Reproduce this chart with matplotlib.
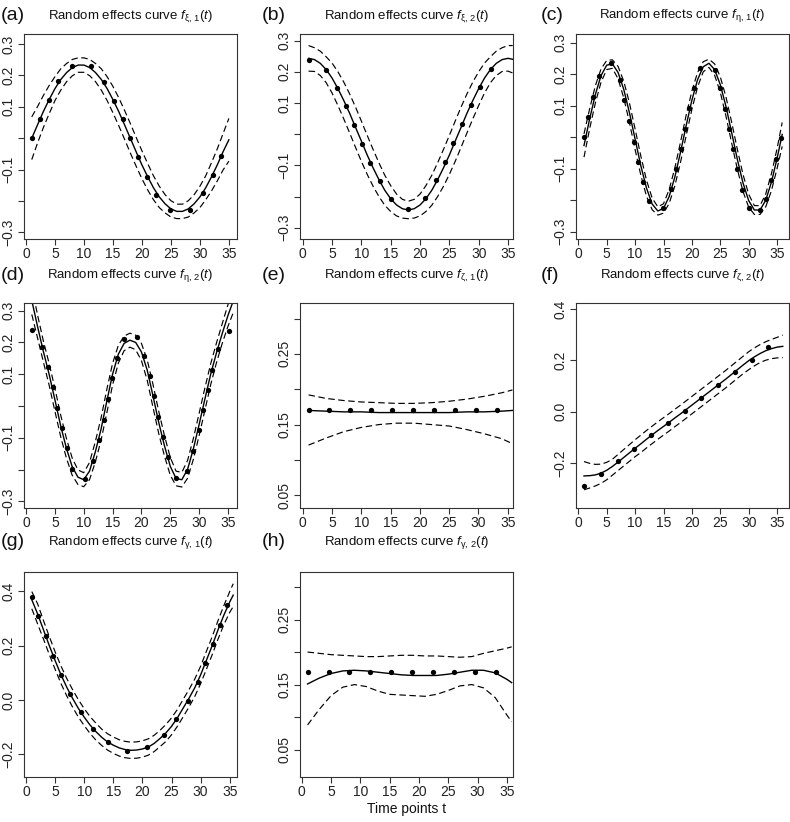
import matplotlib
matplotlib.use("Agg")
import matplotlib.pyplot as plt

plt.rcParams['font.family'] = ['Liberation Sans', 'DejaVu Sans']
plt.rcParams['mathtext.fontset'] = 'custom'
plt.rcParams['mathtext.rm'] = 'Liberation Sans'
plt.rcParams['mathtext.it'] = 'Liberation Sans:italic'

# ---------------- data ----------------
# (a)
t_a = list(range(1, 36))
S_a = [0.000, 0.043, 0.085, 0.123, 0.158, 0.187, 0.209, 0.225, 0.233, 0.233, 0.225, 0.209, 0.187, 0.158, 0.123, 0.085, 0.043, 0.000,
       -0.043, -0.085, -0.123, -0.158, -0.187, -0.209, -0.225, -0.233, -0.233, -0.225, -0.209, -0.187, -0.158, -0.123, -0.085, -0.043, -0.005]
U_a = [0.068, 0.101, 0.136, 0.168, 0.196, 0.221, 0.238, 0.251, 0.256, 0.256, 0.251, 0.238, 0.221, 0.196, 0.165, 0.129, 0.089, 0.047,
       0.003, -0.040, -0.081, -0.120, -0.153, -0.180, -0.199, -0.210, -0.210, -0.199, -0.180, -0.153, -0.120, -0.078, -0.034, 0.015, 0.063]
L_a = [-0.068, -0.015, 0.034, 0.078, 0.120, 0.153, 0.180, 0.199, 0.210, 0.210, 0.199, 0.180, 0.153, 0.120, 0.081, 0.040, -0.003, -0.047,
       -0.089, -0.129, -0.165, -0.196, -0.221, -0.238, -0.251, -0.256, -0.256, -0.251, -0.238, -0.221, -0.196, -0.168, -0.136, -0.101, -0.073]
dt_a = [1.0, 2.5, 4.0, 5.6, 7.9, 11.2, 13.5, 15.2, 16.7, 18.0, 19.4, 20.9, 22.5, 24.9, 28.3, 30.5, 32.2, 33.6]
dv_a = [0.001, 0.062, 0.123, 0.181, 0.230, 0.230, 0.180, 0.120, 0.060, 0.000, -0.061, -0.123, -0.180, -0.230, -0.230, -0.175, -0.116, -0.057]

# (b)
t_b = list(range(1, 36)) + [35.8]
S_b = [0.243, 0.239, 0.227, 0.207, 0.180, 0.146, 0.108, 0.067, 0.022, -0.022, -0.067, -0.108, -0.146, -0.180, -0.207, -0.227, -0.239, -0.243,
       -0.239, -0.227, -0.207, -0.180, -0.146, -0.108, -0.067, -0.022, 0.022, 0.067, 0.108, 0.146, 0.180, 0.207, 0.227, 0.239, 0.243, 0.240]
U_b = [0.284, 0.277, 0.266, 0.248, 0.228, 0.200, 0.167, 0.129, 0.087, 0.042, -0.004, -0.049, -0.092, -0.132, -0.165, -0.192, -0.209, -0.215,
       -0.209, -0.192, -0.165, -0.132, -0.092, -0.049, -0.004, 0.042, 0.087, 0.129, 0.167, 0.200, 0.228, 0.248, 0.266, 0.277, 0.284, 0.284]
L_b = [0.202, 0.201, 0.188, 0.165, 0.132, 0.092, 0.049, 0.004, -0.042, -0.087, -0.129, -0.167, -0.200, -0.228, -0.248, -0.262, -0.269, -0.271,
       -0.269, -0.262, -0.248, -0.228, -0.200, -0.167, -0.129, -0.087, -0.042, 0.004, 0.049, 0.092, 0.132, 0.165, 0.188, 0.201, 0.202, 0.196]
dt_b = [1.0, 3.9, 5.85, 7.35, 8.8, 10.15, 11.55, 13.1, 15.1, 18.0, 20.85, 22.8, 24.25, 25.7, 27.15, 28.65, 30.15, 32.1]
dv_b = [0.239, 0.205, 0.149, 0.089, 0.029, -0.031, -0.092, -0.151, -0.207, -0.240, -0.205, -0.148, -0.089, -0.029, 0.032, 0.092, 0.152, 0.208]

# (c)
t_c = list(range(1, 36)) + [35.9]
S_c = [-0.026, 0.059, 0.136, 0.196, 0.229, 0.233, 0.206, 0.152, 0.078, -0.006, -0.090, -0.161, -0.212, -0.234, -0.226, -0.188, -0.126, -0.047,
       0.038, 0.118, 0.183, 0.224, 0.235, 0.215, 0.167, 0.098, 0.015, -0.070, -0.145, -0.201, -0.231, -0.231, -0.200, -0.143, -0.067, 0.009]
U_c = [0.011, 0.091, 0.164, 0.217, 0.244, 0.246, 0.225, 0.178, 0.109, 0.026, -0.059, -0.136, -0.193, -0.221, -0.211, -0.166, -0.097, -0.015,
       0.071, 0.147, 0.206, 0.240, 0.248, 0.233, 0.192, 0.128, 0.048, -0.038, -0.118, -0.181, -0.217, -0.217, -0.180, -0.116, -0.036, 0.047]
L_c = [-0.063, 0.028, 0.109, 0.175, 0.215, 0.219, 0.186, 0.125, 0.047, -0.039, -0.120, -0.187, -0.230, -0.247, -0.241, -0.210, -0.154, -0.079,
       0.006, 0.089, 0.160, 0.208, 0.222, 0.197, 0.143, 0.067, -0.018, -0.101, -0.172, -0.222, -0.245, -0.245, -0.221, -0.170, -0.099, -0.029]
dt_c = [1.0, 1.76, 2.53, 3.59, 5.71, 7.35, 8.12, 8.94, 9.82, 10.59, 11.47, 12.53, 14.88, 16.29, 17.18, 18.0, 18.76, 19.53, 20.35, 21.35,
        24.0, 25.0, 25.76, 26.47, 27.18, 27.94, 28.82, 30.12, 31.94, 33.12, 33.94, 34.88, 35.76]
dv_c = [0.002, 0.065, 0.129, 0.195, 0.237, 0.181, 0.118, 0.053, -0.014, -0.079, -0.142, -0.203, -0.224, -0.163, -0.100, -0.037, 0.026, 0.093,
        0.158, 0.221, 0.214, 0.155, 0.089, 0.026, -0.037, -0.102, -0.168, -0.224, -0.232, -0.195, -0.137, -0.068, -0.003]

# (d)
t_d = list(range(1, 37))
S_d = [0.332, 0.250, 0.172, 0.100, 0.020, -0.062, -0.133, -0.191, -0.224, -0.232, -0.205, -0.145, -0.073, 0.015, 0.100, 0.163, 0.197, 0.207,
       0.200, 0.170, 0.113, 0.032, -0.052, -0.126, -0.190, -0.228, -0.232, -0.199, -0.135, -0.058, 0.022, 0.100, 0.167, 0.228, 0.285, 0.335]
U_d = [0.376, 0.286, 0.205, 0.134, 0.056, -0.028, -0.102, -0.164, -0.201, -0.210, -0.178, -0.113, -0.038, 0.052, 0.134, 0.191, 0.220, 0.229,
       0.223, 0.197, 0.145, 0.068, -0.017, -0.094, -0.162, -0.205, -0.209, -0.171, -0.102, -0.023, 0.057, 0.133, 0.198, 0.259, 0.319, 0.372]
L_d = [0.288, 0.214, 0.139, 0.066, -0.016, -0.096, -0.164, -0.218, -0.247, -0.254, -0.232, -0.177, -0.108, -0.022, 0.066, 0.135, 0.174, 0.185,
       0.177, 0.143, 0.081, -0.004, -0.087, -0.158, -0.218, -0.251, -0.255, -0.227, -0.168, -0.093, -0.013, 0.067, 0.136, 0.197, 0.251, 0.298]
dt_d = [1.0, 2.8, 3.85, 4.65, 5.4, 6.15, 7.1, 8.05, 10.3, 11.6, 12.65, 13.5, 14.15, 14.9, 15.7, 16.9, 19.3, 20.5, 21.4, 22.1, 22.9, 23.7,
        24.65, 26.0, 27.9, 29.0, 29.9, 30.65, 31.45, 32.3, 33.3, 35.1]
dv_d = [0.238, 0.186, 0.122, 0.059, -0.005, -0.069, -0.133, -0.198, -0.230, -0.173, -0.108, -0.043, 0.022, 0.087, 0.150, 0.212, 0.217, 0.157,
        0.093, 0.030, -0.035, -0.099, -0.162, -0.227, -0.205, -0.141, -0.077, -0.012, 0.051, 0.114, 0.179, 0.235]

# (e)
t_e = [1, 4, 7, 10, 13, 16, 19, 22, 25, 28, 31, 34, 35.8]
S_e = [0.170, 0.169, 0.168, 0.168, 0.167, 0.167, 0.167, 0.167, 0.167, 0.168, 0.168, 0.169, 0.170]
U_e = [0.192, 0.187, 0.184, 0.182, 0.181, 0.180, 0.180, 0.181, 0.183, 0.186, 0.190, 0.195, 0.199]
L_e = [0.121, 0.131, 0.140, 0.146, 0.150, 0.152, 0.152, 0.150, 0.148, 0.143, 0.137, 0.130, 0.123]
dt_e = [1.0, 4.57, 8.15, 11.72, 15.3, 18.87, 22.45, 26.02, 29.6, 33.17]
dv_e = [0.170, 0.170, 0.170, 0.170, 0.170, 0.170, 0.170, 0.170, 0.170, 0.170]

# (f)
t_f = list(range(1, 37))
S_f = [-0.251, -0.250, -0.247, -0.240, -0.229, -0.214, -0.197, -0.179, -0.161, -0.143, -0.126, -0.108, -0.091, -0.074, -0.058, -0.042, -0.025, -0.009,
       0.008, 0.025, 0.042, 0.059, 0.076, 0.093, 0.110, 0.127, 0.145, 0.163, 0.181, 0.198, 0.213, 0.226, 0.237, 0.245, 0.251, 0.254]
U_f = [-0.195, -0.202, -0.206, -0.205, -0.198, -0.186, -0.167, -0.148, -0.129, -0.110, -0.092, -0.074, -0.057, -0.040, -0.024, -0.008, 0.009, 0.025,
       0.042, 0.059, 0.076, 0.093, 0.110, 0.127, 0.144, 0.161, 0.179, 0.197, 0.215, 0.233, 0.248, 0.261, 0.272, 0.281, 0.289, 0.298]
L_f = [-0.305, -0.298, -0.290, -0.280, -0.266, -0.248, -0.230, -0.212, -0.194, -0.176, -0.160, -0.142, -0.125, -0.108, -0.092, -0.076, -0.059, -0.043,
       -0.026, -0.009, 0.008, 0.025, 0.042, 0.059, 0.076, 0.093, 0.111, 0.129, 0.147, 0.163, 0.178, 0.191, 0.200, 0.206, 0.209, 0.210]
dt_f = [1.0, 3.95, 6.9, 9.85, 12.8, 15.75, 18.7, 21.65, 24.6, 27.55, 30.5, 33.45]
dv_f = [-0.290, -0.242, -0.192, -0.145, -0.093, -0.045, 0.004, 0.054, 0.102, 0.153, 0.201, 0.250]

# (g)
t_g = list(range(1, 36)) + [35.6]
S_g = [0.368, 0.316, 0.258, 0.200, 0.145, 0.093, 0.047, 0.006, -0.031, -0.063, -0.092, -0.116, -0.137, -0.154, -0.166, -0.176, -0.182, -0.185,
       -0.184, -0.180, -0.173, -0.160, -0.142, -0.122, -0.097, -0.066, -0.030, 0.006, 0.045, 0.092, 0.146, 0.200, 0.258, 0.312, 0.360, 0.385]
U_g = [0.398, 0.353, 0.292, 0.233, 0.177, 0.125, 0.079, 0.038, 0.001, -0.032, -0.061, -0.085, -0.107, -0.124, -0.136, -0.146, -0.152, -0.155,
       -0.154, -0.150, -0.143, -0.130, -0.112, -0.091, -0.066, -0.035, 0.002, 0.038, 0.077, 0.124, 0.179, 0.233, 0.292, 0.347, 0.398, 0.427]
L_g = [0.335, 0.279, 0.224, 0.167, 0.113, 0.061, 0.015, -0.026, -0.063, -0.094, -0.123, -0.147, -0.167, -0.184, -0.196, -0.206, -0.212, -0.215,
       -0.214, -0.210, -0.203, -0.190, -0.172, -0.153, -0.128, -0.097, -0.062, -0.026, 0.013, 0.060, 0.113, 0.167, 0.224, 0.277, 0.322, 0.343]
dt_g = [1.0, 2.14, 3.40, 4.66, 6.03, 7.57, 9.40, 11.46, 14.09, 17.29, 20.78, 23.64, 25.81, 27.76, 29.47, 30.79, 32.10, 33.30, 34.56]
dv_g = [0.379, 0.307, 0.235, 0.162, 0.091, 0.023, -0.044, -0.105, -0.156, -0.187, -0.174, -0.129, -0.070, -0.004, 0.065, 0.135, 0.205, 0.277, 0.348]

# (h)
t_h = [1, 3, 5, 7, 9, 11, 13, 15, 17, 19, 21, 23, 25, 27, 29, 31, 33, 35, 35.8]
S_h = [0.151, 0.160, 0.167, 0.171, 0.172, 0.171, 0.169, 0.167, 0.165, 0.164, 0.164, 0.164, 0.166, 0.169, 0.172, 0.172, 0.168, 0.158, 0.153]
U_h = [0.200, 0.198, 0.196, 0.195, 0.194, 0.193, 0.193, 0.194, 0.195, 0.195, 0.194, 0.194, 0.193, 0.192, 0.193, 0.198, 0.202, 0.206, 0.208]
L_h = [0.088, 0.112, 0.133, 0.146, 0.150, 0.147, 0.140, 0.135, 0.134, 0.133, 0.132, 0.135, 0.141, 0.148, 0.150, 0.145, 0.130, 0.103, 0.093]
dt_h = [1.0, 4.57, 8.15, 11.72, 15.3, 18.87, 22.45, 26.02, 29.6, 33.17]
dv_h = [0.169, 0.169, 0.169, 0.169, 0.169, 0.169, 0.169, 0.169, 0.169, 0.169]

x_ticks = [0, 5, 10, 15, 20, 25, 30, 35]
yt_sine = [-0.3, -0.2, -0.1, 0.0, 0.1, 0.2, 0.3]
yl_sine = ['\u22120.3', '', '\u22120.1', '', '0.1', '0.2', '0.3']
yt_flat = [0.05, 0.10, 0.15, 0.20, 0.25, 0.30]
yl_flat = ['0.05', '', '0.15', '', '0.25', '']
yt_lin = [-0.2, 0.0, 0.2, 0.4]
yl_lin = ['\u22120.2', '0.0', '0.2', '0.4']

panels = [
    ('(a)', r'\xi', '1', t_a, S_a, U_a, L_a, dt_a, dv_a, (-0.34, 36.4), (-0.321, 0.332), yt_sine, yl_sine),
    ('(b)', r'\xi', '2', t_b, S_b, U_b, L_b, dt_b, dv_b, (-0.46, 35.85), (-0.336, 0.321), yt_sine, yl_sine),
    ('(c)', r'\eta', '1', t_c, S_c, U_c, L_c, dt_c, dv_c, (-0.41, 37.1), (-0.323, 0.328), yt_sine, yl_sine),
    ('(d)', r'\eta', '2', t_d, S_d, U_d, L_d, dt_d, dv_d, (-0.35, 36.56), (-0.321, 0.324), yt_sine, yl_sine),
    ('(e)', r'\zeta', '1', t_e, S_e, U_e, L_e, dt_e, dv_e, (-0.46, 35.9), (0.032, 0.322), yt_flat, yl_flat),
    ('(f)', r'\zeta', '2', t_f, S_f, U_f, L_f, dt_f, dv_f, (-0.41, 37.1), (-0.376, 0.423), yt_lin, yl_lin),
    ('(g)', r'\gamma', '1', t_g, S_g, U_g, L_g, dt_g, dv_g, (-0.34, 36.25), (-0.283, 0.470), yt_lin, yl_lin),
    ('(h)', r'\gamma', '2', t_h, S_h, U_h, L_h, dt_h, dv_h, (-0.29, 36.03), (0.008, 0.323), yt_flat, yl_flat),
]

W, H = 790, 822
fig = plt.figure(figsize=(W / 100, H / 100), dpi=100)

col_left = [24, 300, 576]
row_top = [34, 303, 572]
title_y = [16, 275, 542]
lab_x = [1, 262, 541]
aw, ah = 213, 205
frame_col = '#333333'

for i, (lab, g, k, t, S, U, L, dt, dv, xl, yl, yt, ytl) in enumerate(panels):
    r, c = divmod(i, 3)
    ax = fig.add_axes([col_left[c] / W, 1 - (row_top[r] + ah) / H, aw / W, ah / H])
    ax.plot(t, U, color='black', lw=0.85, linestyle=(0, (5.5, 3.0)))
    ax.plot(t, L, color='black', lw=0.85, linestyle=(0, (5.5, 3.0)))
    ax.plot(t, S, color='black', lw=1.0)
    ax.plot(dt, dv, 'o', color='black', ms=3.8, mew=0)
    ax.set_xlim(*xl)
    ax.set_ylim(*yl)
    ax.set_xticks(x_ticks)
    ax.set_xticklabels([str(x) for x in x_ticks])
    ax.set_yticks(yt)
    ax.set_yticklabels(ytl, rotation=90, va='center')
    for s in ax.spines.values():
        s.set_color(frame_col)
        s.set_linewidth(0.8)
    ax.tick_params(direction='out', length=4, width=0.8, color=frame_col,
                   labelsize=10, labelcolor='#222222', pad=2)
    cx = (col_left[c] + aw / 2) / W
    fig.text(cx, 1 - title_y[r] / H,
             'Random effects curve ' + r'$f_{\mathregular{%s,\,%s}}(t)$' % (g, k),
             ha='center', va='center', fontsize=9.5, color='#111111')
    fig.text(lab_x[c] / W, 1 - title_y[r] / H, lab, ha='left', va='center',
             fontsize=14, color='#111111')

fig.text((300 + aw / 2) / W, 1 - 809 / H, 'Time points t', ha='center', va='center',
         fontsize=10, color='#111111')

fig.savefig('out.png', dpi=100)
